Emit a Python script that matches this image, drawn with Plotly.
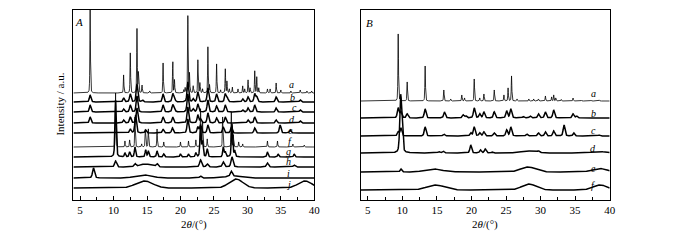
import numpy as np
import plotly.graph_objects as go

# 2-theta grid (degrees)
two_theta = np.round(np.arange(4.0, 40.0001, 0.02), 3)

# ---------------- Panel A ----------------
A_labels = ["a", "b", "c", "d", "e", "f", "g", "h", "i", "j"]
A_offsets = [107, 98, 88, 77, 67, 53, 43, 33, 22, 12]
A_fwhm = [0.1, 0.28, 0.28, 0.28, 0.28, 0.1, 0.22, 0.35, 0.35, 0.35]

A_a = [(6.5, 83), (11.5, 18), (12.5, 40), (13.5, 64), (13.7, 20), (14.25, 8), (15.4, 2),
       (17.4, 30), (18.85, 32), (19.1, 13), (20.5, 3), (20.7, 5), (21.1, 77), (21.35, 20),
       (21.9, 7), (22.6, 33), (22.9, 10), (23.3, 4), (24.1, 46), (24.35, 8), (25.4, 29),
       (26.0, 3), (26.7, 24), (26.95, 12), (27.3, 4), (27.75, 6), (28.6, 4), (29.3, 7),
       (29.6, 4), (30.1, 13), (30.4, 5), (31.1, 22), (31.4, 16), (31.7, 5), (33.0, 4),
       (33.4, 4), (34.3, 10), (35.0, 3), (36.5, 2), (37.9, 3), (38.9, 2), (39.6, 2)]
A_b = [(6.5, 7), (11.5, 4), (12.5, 8), (13.5, 18), (14.3, 2), (17.4, 8), (18.85, 8), (19.1, 3),
       (21.1, 20), (21.9, 3), (22.6, 10), (24.1, 14), (25.4, 8), (26.7, 8), (27.0, 4),
       (29.3, 3), (30.1, 5), (31.1, 8), (31.4, 5), (34.3, 5), (37.9, 2)]
A_c = [(6.5, 7), (11.5, 3), (12.5, 7), (13.5, 16), (17.4, 7), (18.85, 7), (19.1, 3),
       (21.1, 18), (21.9, 3), (22.6, 8), (24.1, 12), (25.4, 6), (26.7, 7), (29.3, 2),
       (30.1, 4), (31.1, 7), (34.3, 4), (37.9, 2)]
A_d = [(6.5, 6), (11.5, 3), (12.5, 6), (13.5, 15), (17.4, 6), (18.85, 6), (21.1, 16),
       (22.6, 8), (23.0, 4), (24.1, 10), (25.4, 5), (26.7, 6), (30.1, 3), (31.1, 6),
       (34.3, 3), (37.9, 2)]
A_e = [(12.5, 4), (13.3, 18), (14.8, 3), (17.4, 4), (18.8, 5), (21.1, 14), (22.6, 6),
       (23.0, 8), (24.1, 8), (26.4, 6), (27.6, 6), (31.1, 5), (34.9, 8), (36.4, 3)]
A_f = [(10.3, 54), (11.7, 6), (12.4, 7), (13.2, 30), (14.2, 3), (14.75, 18), (15.2, 18),
       (16.5, 18), (17.5, 5), (20.0, 5), (21.2, 6), (22.3, 7), (23.0, 38), (23.3, 25),
       (24.0, 8), (26.3, 30), (27.6, 35), (27.9, 12), (28.7, 5), (29.3, 3), (33.0, 6),
       (34.5, 6), (36.8, 3), (38.5, 2)]
A_g = [(10.3, 57), (11.7, 4), (12.4, 5), (13.2, 10), (14.8, 7), (15.2, 6), (16.5, 6),
       (17.5, 3), (20.0, 3), (21.2, 3), (22.3, 4), (23.0, 30), (23.3, 15), (24.0, 8),
       (26.4, 10), (26.7, 5), (27.7, 33), (28.1, 6), (33.0, 5), (34.6, 3), (37.0, 3)]
A_h = [(10.3, 6), (13.2, 3), (16.5, 3), (23.0, 7), (24.0, 3), (26.4, 5), (27.7, 10),
       (33.0, 4), (37.0, 2)]
A_i = [(7.0, 10), (23.0, 2), (27.6, 5)]
A_j = []
# broad amorphous halos: (position, height, fwhm)
A_h_halos = [(14.8, 3, 2.0)]
A_i_halos = [(14.5, 3, 3.0), (28.0, 2, 3.0)]
A_j_halos = [(14.6, 7, 3.0), (28.3, 9, 2.4), (38.6, 7, 2.4)]

A_peaks = [A_a, A_b, A_c, A_d, A_e, A_f, A_g, A_h, A_i, A_j]
A_halos = [[], [], [], [], [], [], [], A_h_halos, A_i_halos, A_j_halos]

# ---------------- Panel B ----------------
B_labels = ["a", "b", "c", "d", "e", "f"]
B_offsets = [99, 82, 64, 47, 28, 10]
B_fwhm = [0.1, 0.3, 0.3, 0.3, 0.3, 0.3]

B_a = [(9.4, 67), (9.7, 4), (10.7, 19), (13.3, 35), (16.0, 11), (17.0, 2), (18.6, 6),
       (19.0, 3), (20.4, 22), (21.2, 3), (21.8, 7), (23.3, 11), (24.7, 6), (25.3, 13),
       (25.8, 25), (26.6, 2), (28.3, 2), (29.0, 2), (29.7, 2), (30.7, 5), (31.6, 4),
       (31.9, 6), (32.2, 3), (33.0, 1.5), (34.7, 3), (35.9, 1), (37.3, 1), (38.5, 1)]
B_b = [(9.4, 10), (9.8, 6), (10.7, 4), (13.3, 9), (16.1, 6), (18.8, 3), (19.2, 2),
       (20.4, 10), (21.2, 4), (21.8, 6), (23.3, 6), (25.1, 7), (25.7, 9), (27.5, 1.5),
       (28.5, 2), (29.7, 4), (30.7, 6), (31.9, 8), (34.7, 4), (35.2, 2)]
B_c = [(9.4, 4), (9.8, 8), (13.3, 9), (16.0, 2), (19.9, 3), (20.4, 9), (21.2, 3),
       (21.8, 4), (23.3, 3), (25.1, 6), (25.7, 9), (28.0, 2), (29.7, 3), (30.7, 4),
       (31.9, 5), (33.4, 11), (34.8, 3), (38.5, 1)]
B_d = [(9.75, 52), (9.95, 20), (15.3, 1.5), (15.9, 2), (19.9, 8), (21.3, 3), (22.0, 4),
       (23.0, 1), (29.7, 1.5)]
B_e = [(9.8, 3)]
B_f = []
B_d_halos = [(28.2, 2, 2.5), (38.5, 1.5, 2.5)]
B_e_halos = [(14.5, 3, 3.0), (28.2, 5, 2.5), (38.5, 3.5, 2.5)]
B_f_halos = [(14.8, 5, 3.0), (28.3, 6, 2.4), (38.6, 5, 2.4)]

B_peaks = [B_a, B_b, B_c, B_d, B_e, B_f]
B_halos = [[], [], [], B_d_halos, B_e_halos, B_f_halos]


def profile(peaks, halos, fwhm, offset):
    y = np.full_like(two_theta, float(offset))
    for pos, h in peaks:
        g = np.exp(-4 * np.log(2) * ((two_theta - pos) / fwhm) ** 2)
        l = 1.0 / (1.0 + 4 * ((two_theta - pos) / fwhm) ** 2)
        y += h * (0.6 * g + 0.4 * l)
    for pos, h, w in halos:
        y += h * np.exp(-4 * np.log(2) * ((two_theta - pos) / w) ** 2)
    return y


fig = go.Figure()
for k, lab in enumerate(A_labels):
    thin = lab in ("a", "f")
    fig.add_trace(go.Scatter(x=two_theta, y=profile(A_peaks[k], A_halos[k], A_fwhm[k], A_offsets[k]),
                             mode="lines", line=dict(color="black", width=0.8 if thin else 1.5),
                             xaxis="x", yaxis="y", showlegend=False, hoverinfo="skip"))
for k, lab in enumerate(B_labels):
    thin = lab == "a"
    fig.add_trace(go.Scatter(x=two_theta, y=profile(B_peaks[k], B_halos[k], B_fwhm[k], B_offsets[k]),
                             mode="lines", line=dict(color="black", width=0.8 if thin else 1.5),
                             xaxis="x2", yaxis="y2", showlegend=False, hoverinfo="skip"))

FONT = "Liberation Serif"
x_ticks = [5, 10, 15, 20, 25, 30, 35, 40]

# page body adds an 8px margin; size the figure so the page fits the 700x240 window
PAD = 8
W, H = 700 - 2 * PAD, 240 - 2 * PAD


def px(X):
    return (X - PAD) / W


def py(Y):
    return 1 - (Y - PAD) / H


def xax(domain, anchor):
    return dict(domain=domain, anchor=anchor, range=[4, 40], showline=True, mirror=True,
                linecolor="black", linewidth=1, ticks="inside", ticklen=4, tickwidth=1,
                tickcolor="black", tickvals=x_ticks, ticktext=[str(v) for v in x_ticks],
                tickfont=dict(family=FONT, size=11, color="black"), showgrid=False, zeroline=False,
                minor=dict(ticks="inside", ticklen=3, tickvals=[7.5, 12.5, 17.5, 22.5, 27.5, 32.5, 37.5],
                           tickcolor="black", showgrid=False))


def yax(domain, anchor):
    return dict(domain=domain, anchor=anchor, range=[0, 190], showline=True, mirror=True,
                linecolor="black", linewidth=1, ticks="", showticklabels=False, showgrid=False,
                zeroline=False)


ydom = [py(200), py(10)]
fig.update_layout(
    width=W, height=H, margin=dict(l=0, r=0, t=0, b=0),
    paper_bgcolor="white", plot_bgcolor="white",
    xaxis=xax([px(74), px(317)], "y"), yaxis=yax(ydom, "x"),
    xaxis2=xax([px(364), px(615)], "y2"), yaxis2=yax(ydom, "x2"),
)

ann = []
A_label_y = [116, 103, 93, 81, 70, 59, 49, 39, 27, 16]
A_label_x = [36.6, 36.8, 37.0, 36.6, 36.4, 36.3, 36.2, 36.2, 36.1, 36.1]
for lab, lx, ly in zip(A_labels, A_label_x, A_label_y):
    ann.append(dict(x=lx, y=ly, xref="x", yref="y", text=f"<i>{lab}</i>", showarrow=False,
                    xanchor="center", yanchor="middle",
                    font=dict(family=FONT, size=10, color="black")))
B_label_y = [107, 87, 70, 52, 32, 15]
for lab, ly in zip(B_labels, B_label_y):
    ann.append(dict(x=37.6, y=ly, xref="x2", yref="y2", text=f"<i>{lab}</i>", showarrow=False,
                    xanchor="center", yanchor="middle",
                    font=dict(family=FONT, size=10, color="black")))


def paper_text(X, Y, text, size, angle=0):
    return dict(x=px(X), y=py(Y), xref="paper", yref="paper", text=text, showarrow=False,
                xanchor="center", yanchor="middle", textangle=angle,
                font=dict(family=FONT, size=size, color="black"))


ann += [
    paper_text(80, 22, "<i>A</i>", 11),
    paper_text(373, 23, "<i>B</i>", 11),
    paper_text(195.5, 224, "2<i>θ</i>/(°)", 11),
    paper_text(489.5, 224, "2<i>θ</i>/(°)", 11),
    paper_text(60, 104, "Intensity / a.u.", 11, -90),
]
fig.update_layout(annotations=ann)

fig.write_html("out.html")
